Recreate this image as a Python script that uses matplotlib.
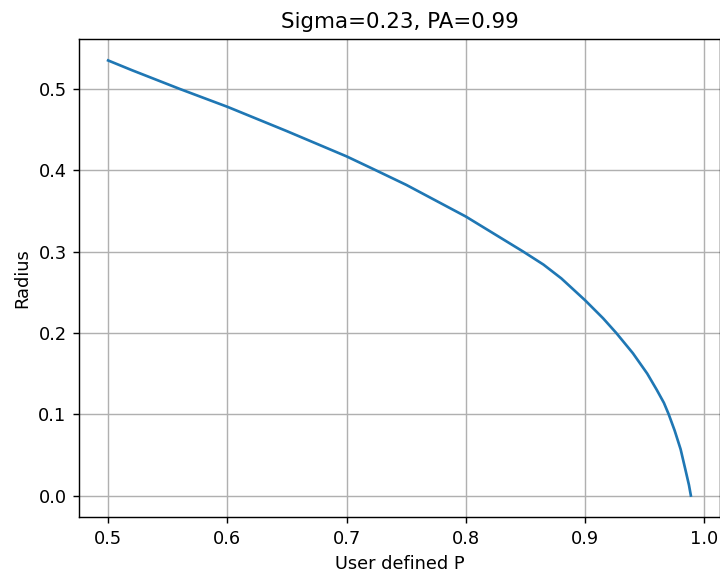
import matplotlib
matplotlib.use("Agg")
import matplotlib.pyplot as plt

sigma = 0.23
pa = 0.99

# values
user_p = [0.5, 0.52, 0.56, 0.6, 0.65, 0.7, 0.723, 0.75, 0.8, 0.848,
          0.865, 0.88, 0.9, 0.915, 0.926, 0.94, 0.952, 0.96, 0.966,
          0.970, 0.975, 0.980, 0.984, 0.987, 0.9886]
radius = [0.535, 0.523, 0.500, 0.478, 0.448, 0.417, 0.401, 0.382, 0.343, 0.300,
          0.284, 0.267, 0.240, 0.218, 0.200, 0.175, 0.150, 0.130, 0.114,
          0.100, 0.080, 0.057, 0.032, 0.013, 0.0]

# reference looks rendered at a higher dpi, so keep default sizes and scale with dpi
dpi = 128
fig = plt.figure(figsize=(720 / dpi, 581 / dpi), dpi=dpi)
ax = fig.add_axes([0.1097, 0.1096, 0.8903, 0.8238])
ax.plot(user_p, radius)
ax.set_title("Sigma=%s, PA=%s" % (sigma, pa))
ax.set_xlabel("User defined P")
ax.set_ylabel("Radius")
ax.grid(True)

fig.savefig("out.png")
